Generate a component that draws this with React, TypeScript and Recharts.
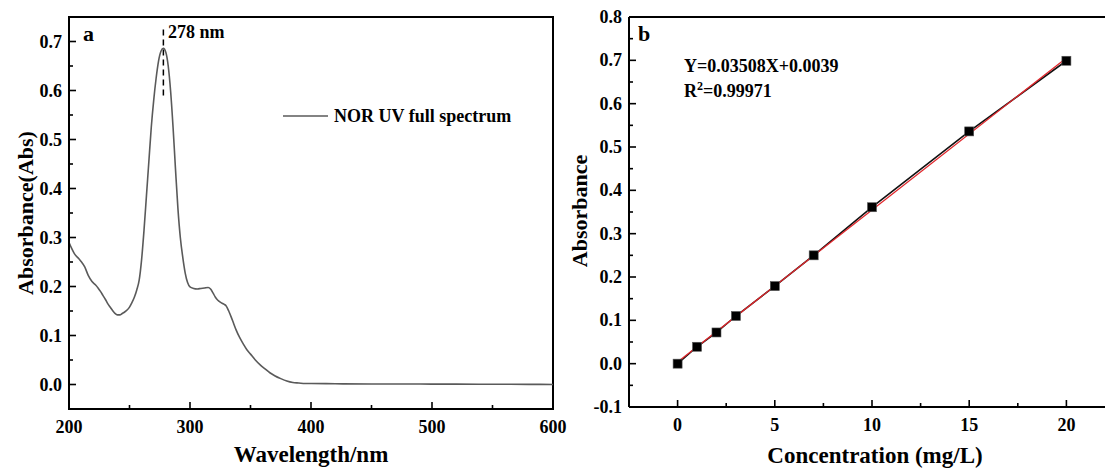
import React from 'react';
import { LineChart, ComposedChart, Line, XAxis, YAxis, ReferenceLine, ReferenceArea } from 'recharts';

const FONT = '"Liberation Serif", "Times New Roman", serif';

// Panel a: UV full spectrum
const wavelengths = [200, 202, 205, 208, 210, 213, 216, 219, 222, 224, 226, 228, 230, 232, 234, 236, 238, 240, 242, 244, 246, 248, 250, 252, 254, 256, 258, 260, 262, 264, 266, 268, 270, 272, 274, 276, 278, 280, 282, 284, 286, 288, 290, 292, 294, 296, 298, 300, 303, 306, 309, 312, 315, 317, 319, 321, 323, 325, 328, 330, 332, 334, 336, 338, 341, 344, 347, 350, 354, 358, 362, 366, 370, 375, 380, 385, 390, 395, 400, 420, 450, 480, 500, 520, 550, 580, 600];
const absorbances = [0.290, 0.279, 0.265, 0.257, 0.251, 0.240, 0.222, 0.210, 0.203, 0.197, 0.190, 0.182, 0.174, 0.165, 0.158, 0.151, 0.145, 0.142, 0.142, 0.145, 0.148, 0.152, 0.158, 0.167, 0.178, 0.193, 0.213, 0.255, 0.315, 0.385, 0.455, 0.525, 0.580, 0.625, 0.660, 0.680, 0.686, 0.678, 0.650, 0.598, 0.525, 0.440, 0.360, 0.300, 0.260, 0.228, 0.208, 0.199, 0.196, 0.195, 0.196, 0.197, 0.198, 0.195, 0.187, 0.178, 0.172, 0.168, 0.164, 0.160, 0.150, 0.138, 0.125, 0.112, 0.096, 0.083, 0.071, 0.062, 0.050, 0.040, 0.032, 0.024, 0.018, 0.012, 0.007, 0.004, 0.003, 0.002, 0.002, 0.0015, 0.001, 0.001, 0.0008, 0.0008, 0.0005, 0.0003, 0.0];
const aXTicks = [200, 250, 300, 350, 400, 450, 500, 550, 600];
const aXMajor = [200, 300, 400, 500, 600];
const aYTicks = [0, 0.05, 0.1, 0.15, 0.2, 0.25, 0.3, 0.35, 0.4, 0.45, 0.5, 0.55, 0.6, 0.65, 0.7];
const aYMajor = [0, 0.1, 0.2, 0.3, 0.4, 0.5, 0.6, 0.7];
const peakWavelength = 278;
const peakMarkerRange = [0.59, 0.73];

// Panel b: calibration
const concentrations = [0, 1, 2, 3, 5, 7, 10, 15, 20];
const measuredAbs = [0.0, 0.039, 0.072, 0.110, 0.179, 0.250, 0.361, 0.536, 0.699];
const fitX = [0, 20];
const fitY = [0.0039, 0.7055];
const bXTicks = [0, 2.5, 5, 7.5, 10, 12.5, 15, 17.5, 20];
const bXMajor = [0, 5, 10, 15, 20];
const bYTicks = [-0.1, -0.05, 0, 0.05, 0.1, 0.15, 0.2, 0.25, 0.3, 0.35, 0.4, 0.45, 0.5, 0.55, 0.6, 0.65, 0.7, 0.75, 0.8];
const bYMajor = [-0.1, 0, 0.1, 0.2, 0.3, 0.4, 0.5, 0.6, 0.7, 0.8];

const spectrum = wavelengths.map((x, i) => ({ x, y: absorbances[i] }));
const measured = concentrations.map((x, i) => ({ x, y: measuredAbs[i] }));
const fit = fitX.map((x, i) => ({ x, y: fitY[i] }));

const isIn = (arr: number[], v: number) => arr.some((m) => Math.abs(m - v) < 1e-9);

const XTick = (props: any) => {
  const { x, y, payload, majors, fmt } = props;
  const v = payload.value;
  const major = isIn(majors, v);
  const len = major ? 7 : 4;
  return (
    <g>
      <line x1={x} y1={y} x2={x} y2={y - len} stroke="#000" strokeWidth={1.6} />
      {major && (
        <text x={x} y={y + 18} textAnchor="middle" dominantBaseline="central" fontSize={18} fontWeight="bold" fontFamily={FONT} fill="#000">
          {fmt(v)}
        </text>
      )}
    </g>
  );
};

const YTick = (props: any) => {
  const { x, y, payload, majors, fmt } = props;
  const v = payload.value;
  const major = isIn(majors, v);
  const len = major ? 7 : 4;
  return (
    <g>
      <line x1={x} y1={y} x2={x + len} y2={y} stroke="#000" strokeWidth={1.6} />
      {major && (
        <text x={x - 7} y={y} textAnchor="end" dominantBaseline="central" fontSize={18} fontWeight="bold" fontFamily={FONT} fill="#000">
          {fmt(v)}
        </text>
      )}
    </g>
  );
};

const SquareDot = (props: any) => {
  const { cx, cy, index } = props;
  if (cx == null || cy == null) return <g key={`n-${index}`} />;
  return <rect key={`sq-${index}`} x={cx - 4.5} y={cy - 4.5} width={9} height={9} fill="#000" stroke="#555" strokeWidth={0.6} />;
};

const fmtInt = (v: number) => String(v);
const fmt1 = (v: number) => v.toFixed(1);

export default function App() {
  const txt = { fontFamily: FONT, fontWeight: 'bold' as const, fill: '#000' };
  return (
    <div style={{ position: 'fixed', left: 0, top: 0, width: 1105, height: 473, overflow: 'hidden', background: '#fff' }}>
      <div style={{ position: 'absolute', left: 0, top: 0 }}>
        <LineChart width={570} height={473} data={spectrum} margin={{ top: 17, right: 17, bottom: 0, left: 0 }}>
          <XAxis
            dataKey="x"
            type="number"
            domain={[200, 600]}
            ticks={aXTicks}
            interval={0}
            height={64}
            tickSize={0}
            tickMargin={0}
            tickLine={false}
            axisLine={{ stroke: '#000', strokeWidth: 2 }}
            tick={<XTick majors={aXMajor} fmt={fmtInt} />}
          />
          <YAxis
            type="number"
            domain={[-0.05, 0.75]}
            ticks={aYTicks}
            interval={0}
            width={69}
            tickSize={0}
            tickMargin={0}
            tickLine={false}
            axisLine={{ stroke: '#000', strokeWidth: 2 }}
            tick={<YTick majors={aYMajor} fmt={fmt1} />}
          />
          <ReferenceArea x1={200} x2={600} y1={-0.05} y2={0.75} fill="none" fillOpacity={0} stroke="#000" strokeWidth={2} />
          <ReferenceLine
            segment={[{ x: peakWavelength, y: peakMarkerRange[0] }, { x: peakWavelength, y: peakMarkerRange[1] }]}
            stroke="#000"
            strokeWidth={1.5}
            strokeDasharray="6 4"
          />
          <Line dataKey="y" type="monotone" stroke="#5a5a5a" strokeWidth={1.6} dot={false} isAnimationActive={false} />
        </LineChart>
      </div>
      <div style={{ position: 'absolute', left: 560, top: 0, width: 545, height: 473, overflow: 'hidden' }}>
        <ComposedChart width={600} height={473} margin={{ top: 17, right: 45, bottom: 0, left: 0 }}>
          <XAxis
            dataKey="x"
            type="number"
            domain={[-2.5, 22.5]}
            ticks={bXTicks}
            interval={0}
            height={66}
            tickSize={0}
            tickMargin={0}
            tickLine={false}
            axisLine={{ stroke: '#000', strokeWidth: 2 }}
            tick={<XTick majors={bXMajor} fmt={fmtInt} />}
          />
          <YAxis
            type="number"
            domain={[-0.1, 0.8]}
            ticks={bYTicks}
            interval={0}
            width={69}
            tickSize={0}
            tickMargin={0}
            tickLine={false}
            axisLine={{ stroke: '#000', strokeWidth: 2 }}
            tick={<YTick majors={bYMajor} fmt={fmt1} />}
          />
          <ReferenceLine y={0.8} stroke="#000" strokeWidth={2} />
          <Line data={measured} dataKey="y" type="linear" stroke="#111" strokeWidth={1.6} dot={false} isAnimationActive={false} />
          <Line data={fit} dataKey="y" type="linear" stroke="#e0262b" strokeWidth={1.3} dot={false} isAnimationActive={false} />
          <Line data={measured} dataKey="y" type="linear" stroke="none" dot={SquareDot} activeDot={false} isAnimationActive={false} />
        </ComposedChart>
      </div>
      <svg width={1105} height={473} style={{ position: 'absolute', left: 0, top: 0, pointerEvents: 'none' }}>
        <text x={83} y={41} fontSize={22} {...txt}>a</text>
        <text x={168} y={38} fontSize={18} {...txt}>278 nm</text>
        <line x1={283} y1={116} x2={328} y2={116} stroke="#5a5a5a" strokeWidth={1.6} />
        <text x={334} y={122} fontSize={18} {...txt}>NOR UV full spectrum</text>
        <text x={33} y={213} fontSize={22} textAnchor="middle" transform="rotate(-90 33 213)" {...txt}>Absorbance(Abs)</text>
        <text x={311} y={462} fontSize={23} textAnchor="middle" {...txt}>Wavelength/nm</text>
        <text x={638} y={41} fontSize={22} {...txt}>b</text>
        <text x={684} y={72} fontSize={18} {...txt}>Y=0.03508X+0.0039</text>
        <text x={684} y={97} fontSize={18} {...txt}>
          R<tspan fontSize={12} dy={-7}>2</tspan><tspan dy={7}>=0.99971</tspan>
        </text>
        <text x={587} y={211} fontSize={22} textAnchor="middle" transform="rotate(-90 587 211)" {...txt}>Absorbance</text>
        <text x={875} y={463} fontSize={23} textAnchor="middle" {...txt}>Concentration (mg/L)</text>
      </svg>
    </div>
  );
}
